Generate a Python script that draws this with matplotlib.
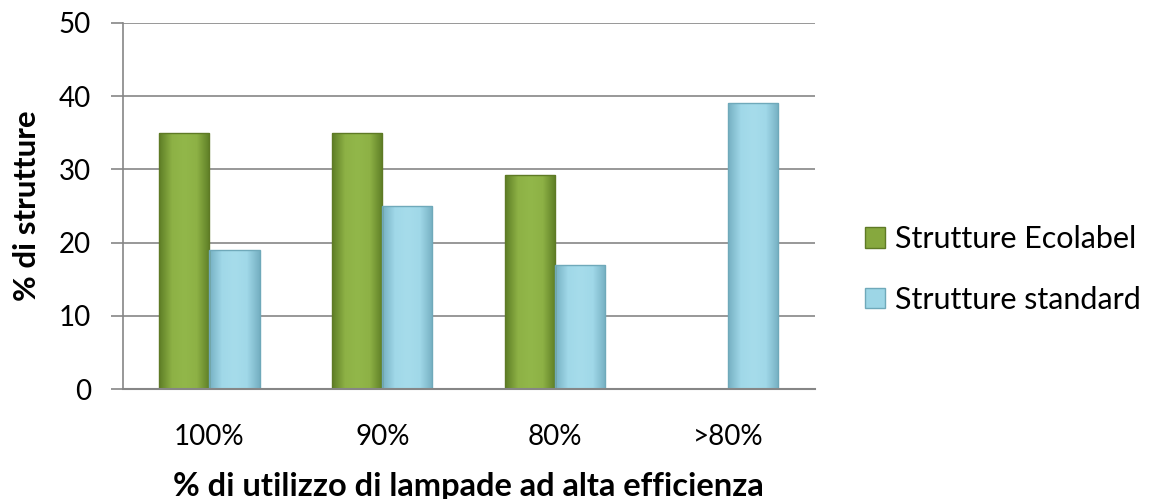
import numpy as np
import matplotlib.pyplot as plt
from matplotlib.patches import Patch
from matplotlib.colors import LinearSegmentedColormap

categories = ["100%", "90%", "80%", ">80%"]
ecolabel = [35, 35, 29.3, 0]
standard = [19, 25, 17, 39]
series_names = ["Strutture Ecolabel", "Strutture standard"]

plt.rcParams['font.family'] = ['Lato', 'DejaVu Sans']

fig = plt.figure(figsize=(11.49, 4.99), dpi=100)
ax = fig.add_axes([0.107, 0.2204, 0.602, 0.7336])

x = np.arange(len(categories))
w = 0.29
green = "#86A83E"
green_edge = "#5E7A25"
blue = "#9DD6E6"
blue_edge = "#6FA9BA"

green_cmap = LinearSegmentedColormap.from_list("g", ["#5E7E26", "#8DB145", "#92B74A", "#8DB145", "#5E7E26"])
blue_cmap = LinearSegmentedColormap.from_list("b", ["#76B0C2", "#A0D8E8", "#A6DCEB", "#A0D8E8", "#76B0C2"])
grad = np.linspace(0, 1, 64).reshape(1, -1)


def shaded_bars(pos, vals, cmap, edge):
    bars = ax.bar(pos, vals, w, color="none", edgecolor=edge, linewidth=1.0, zorder=4)
    for b, v in zip(bars, vals):
        if v <= 0:
            b.set_visible(False)
            continue
        x0, y0 = b.get_x(), b.get_y()
        im = ax.imshow(grad, cmap=cmap, aspect="auto", zorder=3,
                       extent=(x0, x0 + b.get_width(), y0, y0 + b.get_height()))
        im.set_clip_path(b)


shaded_bars(x - w / 2, ecolabel, green_cmap, green_edge)
shaded_bars(x + w / 2, standard, blue_cmap, blue_edge)

ax.set_xlim(-0.5, len(categories) - 0.5)
ax.set_ylim(0, 50)
ax.set_yticks(range(0, 51, 10))
ax.set_xticks(x)
ax.set_xticklabels(categories)
ax.yaxis.grid(True, color="#868686", linewidth=1.2, zorder=0)
ax.tick_params(axis="x", length=0, pad=25, labelsize=20)
ax.tick_params(axis="y", direction="out", length=9, width=1.2, color="#868686", pad=14, labelsize=20)

for s in ["top", "right"]:
    ax.spines[s].set_visible(False)
ax.spines["left"].set_color("#868686")
ax.spines["left"].set_linewidth(1.2)
ax.spines["bottom"].set_color("#868686")
ax.spines["bottom"].set_linewidth(1.5)
ax.spines["bottom"].set_zorder(5)

ax.set_xlabel("% di utilizzo di lampade ad alta efficienza", fontsize=23.5, fontweight="bold", labelpad=16)
ax.set_ylabel("% di strutture", fontsize=22.5, fontweight="bold", labelpad=13)

handles = [Patch(facecolor=green, edgecolor=green_edge),
           Patch(facecolor=blue, edgecolor=blue_edge)]
fig.legend(handles, series_names, loc="center left", bbox_to_anchor=(0.742, 0.46),
           borderaxespad=0, frameon=False, fontsize=22, handlelength=0.65, handleheight=0.65,
           handletextpad=0.33, labelspacing=1.05)

fig.savefig("out.png", dpi=100)
